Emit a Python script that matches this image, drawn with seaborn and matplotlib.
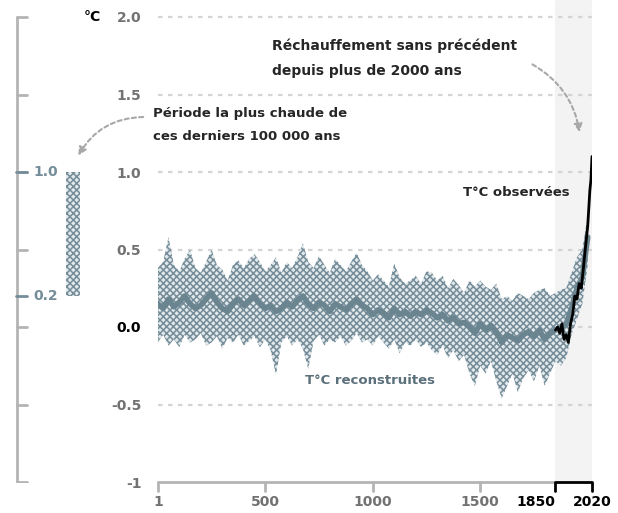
"""Reconstructed and observed temperature change over the last 2000 years."""

import matplotlib

matplotlib.use("Agg")
import matplotlib.pyplot as plt
import pandas as pd
import seaborn as sns
from matplotlib.patches import FancyArrowPatch

# reconstructed temperature, 25-year steps (year 0 .. 2000)
recon_years = list(range(0, 2001, 25))
recon_upper = [
    0.38, 0.42, 0.58, 0.40, 0.36, 0.44, 0.50, 0.38, 0.35, 0.42,
    0.50, 0.40, 0.37, 0.30, 0.40, 0.43, 0.38, 0.44, 0.47, 0.42,
    0.36, 0.40, 0.45, 0.35, 0.42, 0.38, 0.45, 0.54, 0.42, 0.38,
    0.46, 0.40, 0.35, 0.44, 0.40, 0.36, 0.42, 0.48, 0.40, 0.36,
    0.30, 0.34, 0.30, 0.26, 0.41, 0.32, 0.28, 0.30, 0.33, 0.28,
    0.36, 0.35, 0.30, 0.33, 0.25, 0.31, 0.27, 0.22, 0.30, 0.26,
    0.30, 0.26, 0.24, 0.28, 0.18, 0.20, 0.17, 0.22, 0.20, 0.18,
    0.22, 0.24, 0.25, 0.20, 0.22, 0.24, 0.25, 0.35, 0.45, 0.50,
    0.72,
]
recon_lower = [
    -0.10, -0.05, -0.12, -0.08, -0.13, -0.05, -0.10, -0.08, -0.04, -0.12,
    -0.10, -0.06, -0.14, -0.07, -0.10, -0.05, -0.12, -0.09, -0.06, -0.13,
    -0.08, -0.15, -0.31, -0.10, -0.06, -0.12, -0.08, -0.14, -0.27, -0.09,
    -0.05, -0.12, -0.08, -0.10, -0.06, -0.12, -0.09, -0.04, -0.10, -0.08,
    -0.12, -0.06, -0.10, -0.14, -0.08, -0.17, -0.10, -0.12, -0.08, -0.13,
    -0.10, -0.15, -0.18, -0.12, -0.20, -0.15, -0.22, -0.18, -0.30, -0.38,
    -0.25, -0.30, -0.22, -0.35, -0.46, -0.38, -0.30, -0.42, -0.33, -0.28,
    -0.35, -0.25, -0.38, -0.30, -0.22, -0.25, -0.20, -0.05, 0.05, 0.15,
    0.40,
]
recon_median = [
    0.15, 0.12, 0.18, 0.13, 0.16, 0.20, 0.15, 0.12, 0.14, 0.18,
    0.22, 0.16, 0.12, 0.10, 0.15, 0.18, 0.14, 0.17, 0.20, 0.15,
    0.12, 0.14, 0.10, 0.12, 0.16, 0.13, 0.17, 0.20, 0.15, 0.12,
    0.16, 0.14, 0.10, 0.15, 0.13, 0.11, 0.15, 0.18, 0.14, 0.12,
    0.08, 0.11, 0.09, 0.06, 0.12, 0.08, 0.10, 0.07, 0.10, 0.08,
    0.11, 0.09, 0.06, 0.08, 0.04, 0.06, 0.02, 0.03, 0.00, -0.04,
    0.02, -0.02, 0.01, -0.03, -0.10, -0.05, -0.07, -0.09, -0.05, -0.03,
    -0.06, -0.02, -0.08, -0.04, -0.02, 0.00, 0.02, 0.12, 0.25, 0.32,
    0.58,
]

# observed temperature 1850-2020
obs_years = [1850, 1860, 1870, 1880, 1890, 1900, 1910, 1920, 1930, 1940,
             1950, 1960, 1970, 1980, 1990, 2000, 2010, 2015, 2020]
obs_values = [-0.02, 0.00, -0.04, 0.02, -0.08, -0.05, -0.10, 0.02, 0.08, 0.20,
              0.18, 0.28, 0.25, 0.38, 0.52, 0.65, 0.88, 0.95, 1.10]

# warmest multi-century period in the last 100 000 years
warm_low, warm_high = 0.2, 1.0

y_ticks = [2.0, 1.5, 1.0, 0.5, 0.0, -0.5, -1.0]
y_labels = ["2.0", "1.5", "1.0", "0.5", "0.0", "-0.5", "-1"]
x_ticks = [1, 500, 1000, 1500, 1850, 2020]
x_labels = ["1", "500", "1000", "1500", "1850", "2020"]

BLUE = "#748d99"
LINE_BLUE = "#6a8490"
DARK_BLUE = "#5b707a"
FILL = "#e2e8eb"
GREY = "#b4b4b4"
LABEL_GREY = "#727272"

W, H = 618, 513


def frac(px, py):
    return px / W, 1 - py / H


sns.set_style("white")
plt.rcParams["font.family"] = ["DejaVu Sans"]
plt.rcParams["hatch.linewidth"] = 1.1

fig = plt.figure(figsize=(W / 100, H / 100), dpi=100)

# vertical scale: value 0 sits at pixel 327, 155 px per degree
y_bottom = (327 - 483) / 155
y_top = 327 / 155
ax_bottom = (H - 483) / H
ax_height = 483 / H

ax = fig.add_axes([158 / W, ax_bottom, (592 - 158) / W, ax_height])
ax.set_xlim(1, 2020)
ax.set_ylim(y_bottom, y_top)
for s in ax.spines.values():
    s.set_visible(False)

ax.axvspan(1850, 2020, color="#f3f3f3", lw=0, zorder=0)

for yv in y_ticks[:-1]:
    ax.plot([1, 2020], [yv, yv], color="#d4d4d4", lw=1.6,
            ls=(0, (2, 2.5)), zorder=1)

ax.fill_between(recon_years, recon_lower, recon_upper, facecolor=FILL,
                edgecolor=BLUE, hatch="xxxxx", lw=0, zorder=2)
sns.lineplot(x=recon_years, y=recon_median, color=LINE_BLUE, lw=4, ax=ax,
             zorder=3)
obs = pd.DataFrame({"year": obs_years, "temp": obs_values})
sns.lineplot(data=obs, x="year", y="temp", color="black", lw=2, ax=ax, zorder=4)
ax.set(xlabel="", ylabel="")

ax.set_yticks(y_ticks)
ax.set_yticklabels(y_labels)
ax.set_xticks(x_ticks)
ax.set_xticklabels(x_labels)
ax.tick_params(axis="y", length=0, pad=12, labelsize=10)
ax.tick_params(axis="x", length=0, pad=9, labelsize=10)
for lab in ax.get_yticklabels():
    lab.set_color("black" if lab.get_text() == "0.0" else LABEL_GREY)
    lab.set_fontweight("bold")
for lab in ax.get_xticklabels():
    txt = lab.get_text()
    lab.set_fontweight("bold")
    lab.set_color("black" if txt in ("1850", "2020") else LABEL_GREY)
    if txt == "1850":
        lab.set_ha("right")

# bottom axis: grey for the reconstruction, black bracket for 1850-2020
tick_len = 9 / 155
ax.plot([1, 1850], [-1, -1], color=GREY, lw=2, clip_on=False, zorder=5)
for xv in x_ticks[:4]:
    ax.plot([xv, xv], [-1, -1 - tick_len], color=GREY, lw=2, clip_on=False)
ax.plot([1850, 1850, 2020, 2020], [-1 - tick_len, -1, -1, -1 - tick_len],
        color="black", lw=2, clip_on=False, zorder=6)

# left scale with the warm-period range
lax = fig.add_axes([0, ax_bottom, 150 / W, ax_height])
lax.set_xlim(0, 150)
lax.set_ylim(y_bottom, y_top)
lax.axis("off")
lax.plot([17, 17], [-1, 2], color=GREY, lw=2)
for yv in y_ticks:
    lax.plot([17, 27], [yv, yv], color=GREY, lw=2)
for yv in (warm_low, warm_high):
    lax.plot([16, 27], [yv, yv], color=BLUE, lw=2)
    lax.text(58, yv, f"{yv:.1f}", color=BLUE, ha="right", va="center",
             fontsize=10, fontweight="bold")
lax.fill_between([66, 80], warm_low, warm_high, facecolor=FILL,
                 edgecolor=BLUE, hatch="xxxxx", lw=0)
lax.text(101, 2.0, "°C", ha="right", va="center", fontsize=10,
         fontweight="bold", color="black")

# annotations
fig.text(*frac(272, 46), "Réchauffement sans précédent", fontsize=10,
         fontweight="bold", va="center")
fig.text(*frac(272, 71), "depuis plus de 2000 ans", fontsize=10,
         fontweight="bold", va="center")
fig.text(*frac(153, 113), "Période la plus chaude de", fontsize=9.5,
         fontweight="bold", va="center")
fig.text(*frac(153, 137), "ces derniers 100 000 ans", fontsize=9.5,
         fontweight="bold", va="center")
fig.text(*frac(463, 193), "T°C observées", fontsize=9.5,
         fontweight="bold", va="center")
fig.text(*frac(305, 380), "T°C reconstruites", fontsize=9.5,
         fontweight="bold", va="center", color=DARK_BLUE)

arrow = dict(arrowstyle="-|>", color="#a8a8a8", lw=1.5, ls=(0, (2, 1.5)),
             mutation_scale=12)
fig.add_artist(FancyArrowPatch(
    frac(146, 117), frac(77, 158), transform=fig.transFigure,
    connectionstyle="arc3,rad=0.3", **arrow))
fig.add_artist(FancyArrowPatch(
    frac(530, 63), frac(580, 135), transform=fig.transFigure,
    connectionstyle="arc3,rad=-0.25", **arrow))

fig.savefig("out.png", dpi=100)
